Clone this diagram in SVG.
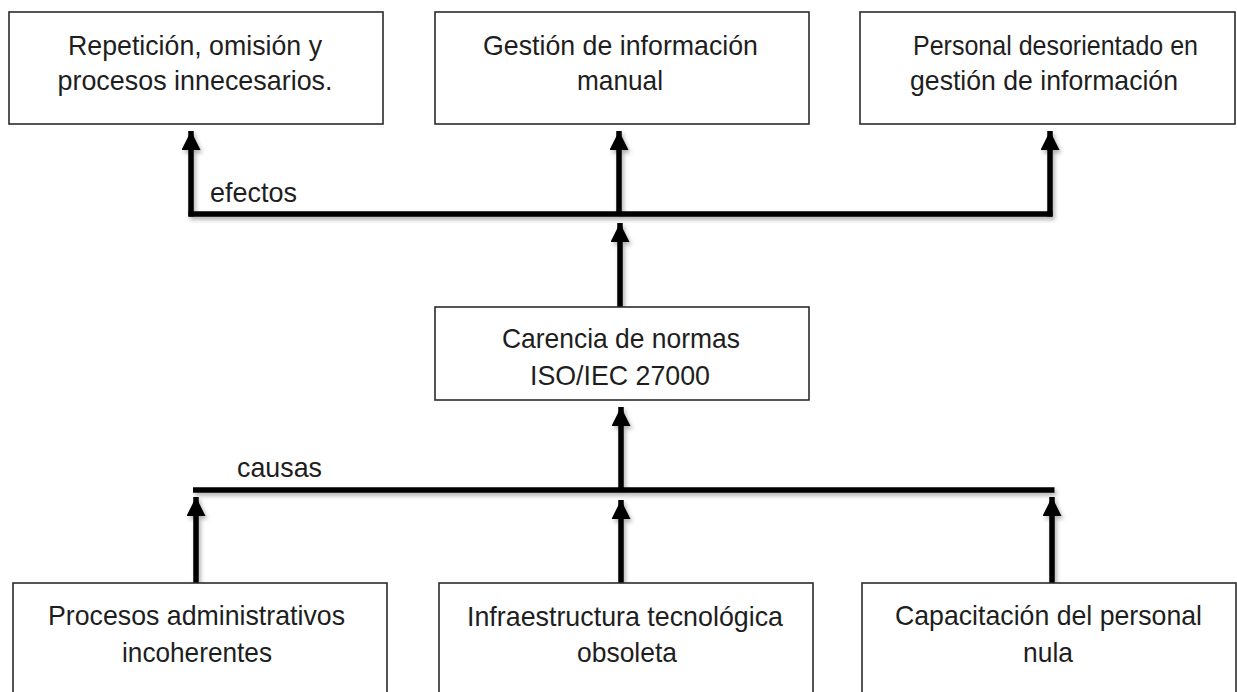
<svg xmlns="http://www.w3.org/2000/svg" width="1237" height="692" viewBox="0 0 1237 692">
<style>
.box{fill:#fff;stroke:#2b2b2b;stroke-width:1.6}
.t{font-family:"Liberation Sans",Arial,sans-serif;font-size:28px;fill:#1e1e1e;text-anchor:middle}
.c{fill:none;stroke:#000;stroke-width:5.5}
</style>
<defs>
<marker id="ah" viewBox="0 0 20 20" refX="20" refY="10" markerWidth="20" markerHeight="19" markerUnits="userSpaceOnUse" orient="auto">
<path d="M0,0 L20,10 L0,20 z" fill="#000"/>
</marker>
<filter id="sh" x="-5%" y="-5%" width="110%" height="120%">
<feDropShadow dx="2" dy="3" stdDeviation="2" flood-color="#000" flood-opacity="0.3"/>
</filter>
</defs>
<rect width="1237" height="692" fill="#fff"/>

<g id="connectors" filter="url(#sh)">
<path class="c" d="M188.5,214 H1052.5"/>
<path class="c" d="M191,216.5 V131" marker-end="url(#ah)"/>
<path class="c" d="M619,214 V131" marker-end="url(#ah)"/>
<path class="c" d="M1050,216.5 V131" marker-end="url(#ah)"/>
<path class="c" d="M620,307 V223" marker-end="url(#ah)"/>
<path class="c" d="M621,490 V407" marker-end="url(#ah)"/>
<path class="c" d="M193,490 H1054.5"/>
<path class="c" d="M196,583 V497" marker-end="url(#ah)"/>
<path class="c" d="M621,583 V500" marker-end="url(#ah)"/>
<path class="c" d="M1052,583 V497" marker-end="url(#ah)"/>
</g>

<g id="effect1">
<rect class="box" x="9" y="12" width="374" height="112"/>
<text class="t" x="195" y="55" textLength="254" lengthAdjust="spacingAndGlyphs">Repetición, omisión y</text>
<text class="t" x="195" y="90" textLength="275" lengthAdjust="spacingAndGlyphs">procesos innecesarios.</text>
</g>
<g id="effect2">
<rect class="box" x="435" y="12" width="374" height="112"/>
<text class="t" x="620.5" y="55" textLength="275" lengthAdjust="spacingAndGlyphs">Gestión de información</text>
<text class="t" x="620" y="90" textLength="86" lengthAdjust="spacingAndGlyphs">manual</text>
</g>
<g id="effect3">
<rect class="box" x="860" y="12" width="375" height="112"/>
<text class="t" x="1055.5" y="55" textLength="285" lengthAdjust="spacingAndGlyphs">Personal desorientado en</text>
<text class="t" x="1044" y="90" textLength="268" lengthAdjust="spacingAndGlyphs">gestión de información</text>
</g>
<g id="label-efectos">
<text class="t" x="253.5" y="202" textLength="87" lengthAdjust="spacingAndGlyphs">efectos</text>
</g>
<g id="problem">
<rect class="box" x="435" y="307" width="374" height="93"/>
<text class="t" x="621" y="348" textLength="238" lengthAdjust="spacingAndGlyphs">Carencia de normas</text>
<text class="t" x="620" y="385" textLength="180" lengthAdjust="spacingAndGlyphs">ISO/IEC 27000</text>
</g>
<g id="label-causas">
<text class="t" x="279.5" y="477" textLength="85" lengthAdjust="spacingAndGlyphs">causas</text>
</g>
<g id="cause1">
<rect class="box" x="13" y="583" width="374" height="120"/>
<text class="t" x="196.5" y="625" textLength="297" lengthAdjust="spacingAndGlyphs">Procesos administrativos</text>
<text class="t" x="197" y="662" textLength="150" lengthAdjust="spacingAndGlyphs">incoherentes</text>
</g>
<g id="cause2">
<rect class="box" x="439" y="583" width="374" height="120"/>
<text class="t" x="625" y="626" textLength="316" lengthAdjust="spacingAndGlyphs">Infraestructura tecnológica</text>
<text class="t" x="627" y="662" textLength="100" lengthAdjust="spacingAndGlyphs">obsoleta</text>
</g>
<g id="cause3">
<rect class="box" x="862" y="583" width="374" height="120"/>
<text class="t" x="1048.5" y="625" textLength="307" lengthAdjust="spacingAndGlyphs">Capacitación del personal</text>
<text class="t" x="1048" y="662" textLength="50" lengthAdjust="spacingAndGlyphs">nula</text>
</g>
</svg>
